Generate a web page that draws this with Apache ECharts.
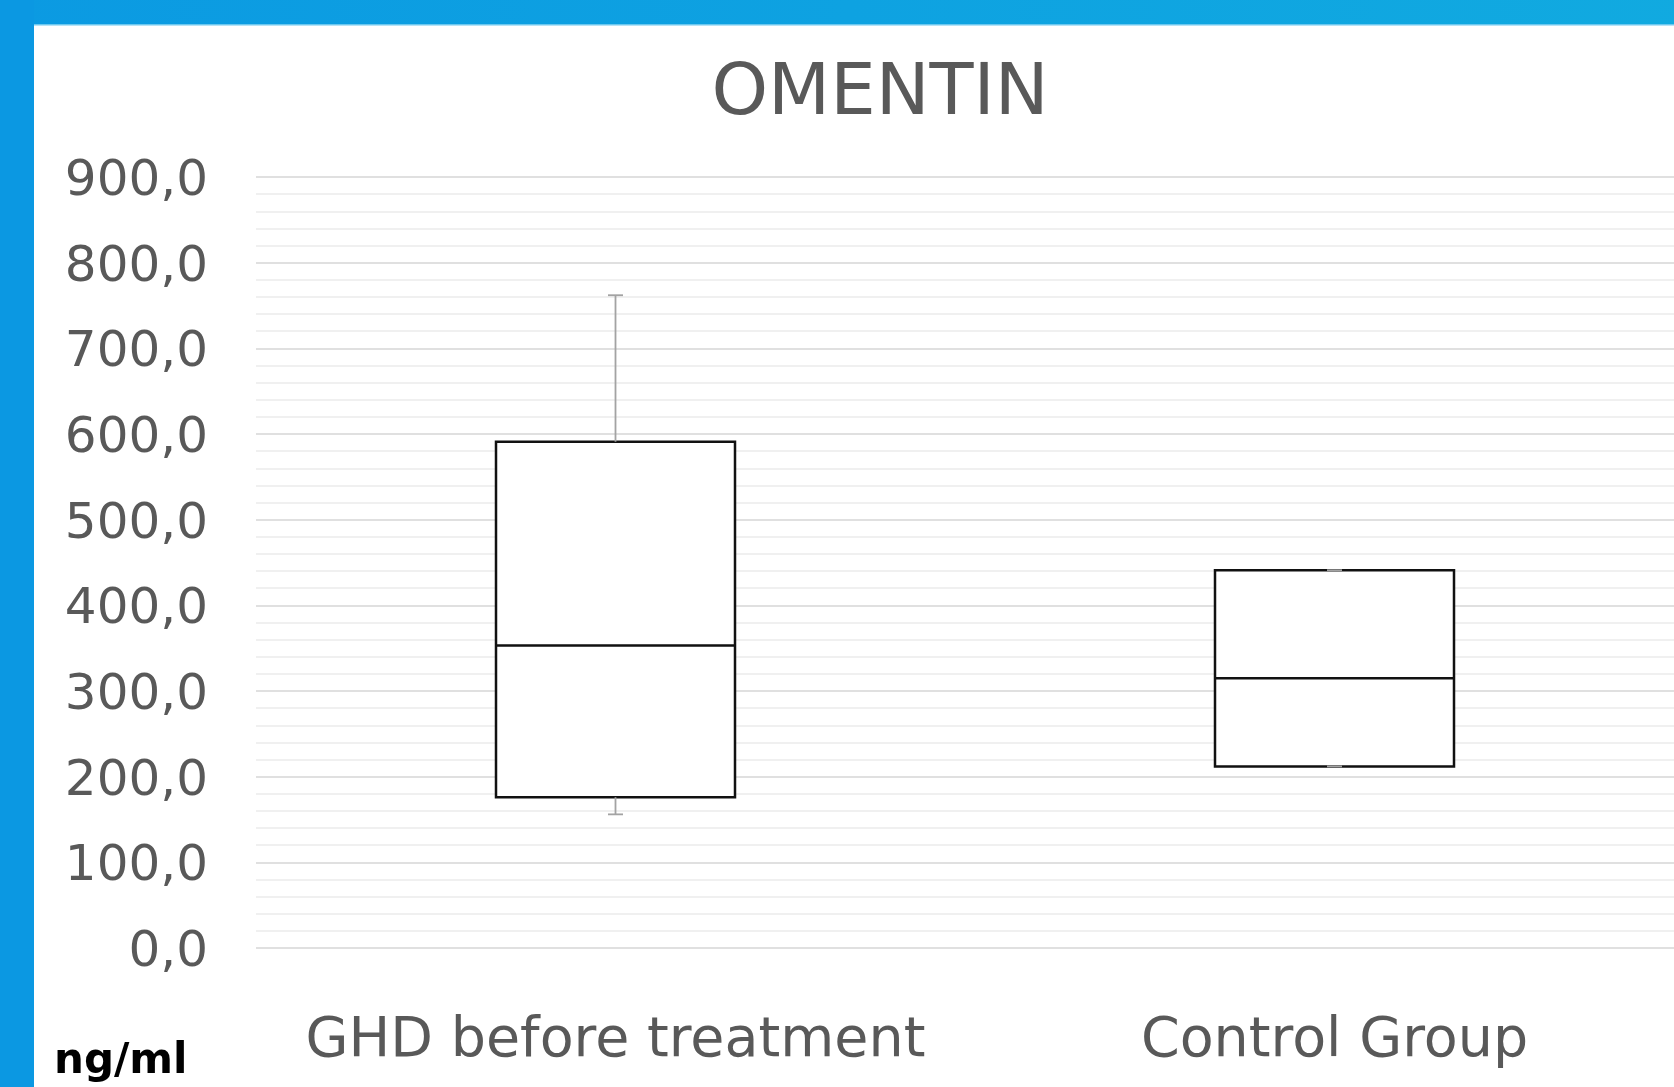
<!DOCTYPE html>
<html><head><meta charset="utf-8">
<script src="https://cdn.jsdelivr.net/npm/echarts@6/dist/echarts.min.js"></script>
<style>html,body{margin:0;padding:0;background:#fff;overflow:hidden;width:1674px;height:1087px}#c{width:1700px;height:1087px}</style>
</head><body><div id="c"></div>
<script>
// ---- data ----
const categories = ['GHD before treatment', 'Control Group'];
const minValues    = [156, 212];
const q1Values     = [176, 212];
const medianValues = [353, 315];
const q3Values     = [591, 441];
const maxValues    = [762, 441];
const yMin = 0, yMax = 900, yInterval = 100;
const titleText = 'OMENTIN';
const unitText = 'ng/ml';

// ---- build ----
const boxData = categories.map((c, i) => [q1Values[i], q1Values[i], medianValues[i], q3Values[i], q3Values[i]]);
const whiskerData = categories.map((c, i) => [i, minValues[i], q1Values[i], q3Values[i], maxValues[i]]);
const FONT = 'DejaVu Sans, Verdana, sans-serif';
const TEXT = '#595959';

const chart = echarts.init(document.getElementById('c'), null, {renderer: 'canvas'});
chart.setOption({
  backgroundColor: '#ffffff',
  animation: false,
  grid: {left: 256, right: 6, top: 177, bottom: 139, containLabel: false},
  xAxis: {
    type: 'category', data: categories, boundaryGap: true,
    axisLine: {show: false}, axisTick: {show: false}, splitLine: {show: false},
    axisLabel: {interval: 0, hideOverlap: false, fontSize: 55.5, color: TEXT, fontFamily: FONT, margin: 66, lineHeight: 56}
  },
  yAxis: {
    type: 'value', min: yMin, max: yMax, interval: yInterval,
    axisLine: {show: false}, axisTick: {show: false},
    axisLabel: {fontSize: 50, color: TEXT, fontFamily: FONT, margin: 48,
      formatter: v => '{a|' + v.toFixed(1).replace('.', ',') + '}',
      rich: {a: {fontSize: 50, color: TEXT, fontFamily: FONT, padding: [10, 0, 0, 0]}}},
    splitLine: {show: true, lineStyle: {color: '#d6d6d6', width: 1.5}},
    minorTick: {show: false, splitNumber: 5},
    minorSplitLine: {show: true, lineStyle: {color: '#ececec', width: 1.5}}
  },
  series: [
    {
      type: 'boxplot', data: boxData, boxWidth: [239, 239], z: 2,
      itemStyle: {color: '#ffffff', borderColor: '#111111', borderWidth: 2.5},
      emphasis: {disabled: true}
    },
    {
      type: 'custom', data: whiskerData, z: 3,
      encode: {x: 0, y: [1, 2, 3, 4]},
      renderItem: function (params, api) {
        const x = api.value(0);
        const pMin = api.coord([x, api.value(1)]);
        const pQ1 = api.coord([x, api.value(2)]);
        const pQ3 = api.coord([x, api.value(3)]);
        const pMax = api.coord([x, api.value(4)]);
        const half = 7.5;
        const st = {stroke: '#a3a3a3', lineWidth: 1.8};
        return {type: 'group', children: [
          {type: 'line', shape: {x1: pMax[0], y1: pMax[1], x2: pQ3[0], y2: pQ3[1]}, style: st},
          {type: 'line', shape: {x1: pMax[0] - half, y1: pMax[1], x2: pMax[0] + half, y2: pMax[1]}, style: st},
          {type: 'line', shape: {x1: pMin[0], y1: pMin[1], x2: pQ1[0], y2: pQ1[1]}, style: st},
          {type: 'line', shape: {x1: pMin[0] - half, y1: pMin[1], x2: pMin[0] + half, y2: pMin[1]}, style: st}
        ]};
      }
    }
  ],
  graphic: [
    {type: 'rect', left: 0, top: 0, z: 100, shape: {width: 1700, height: 25},
      style: {fill: new echarts.graphic.LinearGradient(0, 0, 1, 0, [
        {offset: 0, color: '#0b9ae2'}, {offset: 1, color: '#11aae0'}])}},
    {type: 'rect', left: 0, top: 24, z: 100, shape: {width: 1700, height: 1.5},
      style: {fill: '#6cc8ef'}},
    {type: 'rect', left: 0, top: 0, z: 101, shape: {width: 34, height: 1087},
      style: {fill: '#0b98e2'}},
    {type: 'text', z: 50, style: {text: titleText, x: 880, y: 95, textAlign: 'center', textVerticalAlign: 'middle',
      fontSize: 72, fontFamily: FONT, fill: TEXT}},
    {type: 'text', z: 50, style: {text: unitText, x: 54, y: 1062, textAlign: 'left', textVerticalAlign: 'middle',
      fontSize: 42, fontWeight: 'bold', fontFamily: FONT, fill: '#000000'}}
  ]
});
</script>
</body></html>
